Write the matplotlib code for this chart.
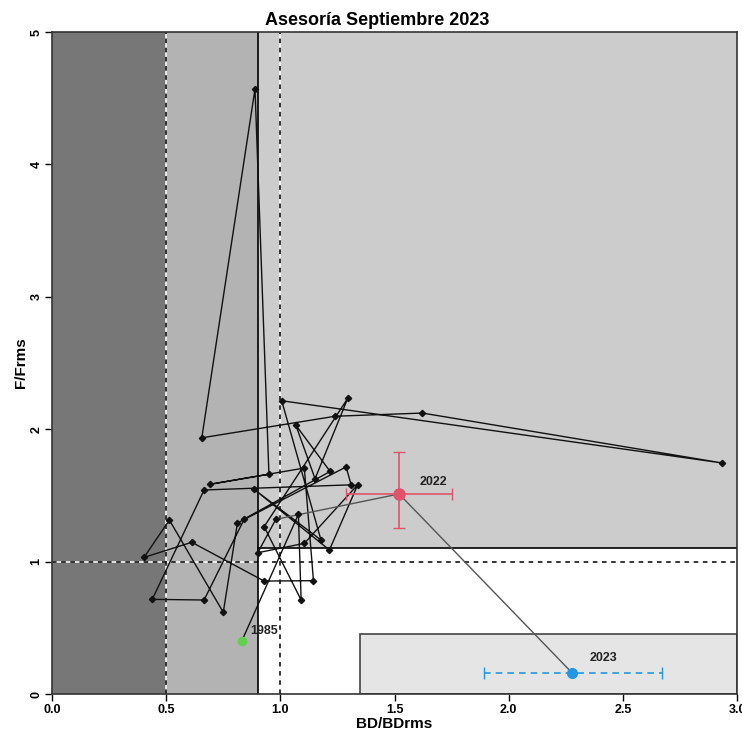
import matplotlib
matplotlib.use("Agg")
import matplotlib.pyplot as plt
from matplotlib.patches import Rectangle

plt.rcParams['font.family'] = ['Liberation Sans Narrow', 'Liberation Sans', 'DejaVu Sans']

# trajectory 1985-2023 (BD/BDrms, F/Frms)
years = list(range(1985, 2024))
bd = [0.831, 1.079, 1.091, 0.929, 1.295, 1.152, 1.068, 1.218, 0.842, 0.666,
      0.439, 0.666, 1.310, 1.288, 0.812, 0.750, 0.514, 0.403, 0.612, 0.929,
      1.145, 1.105, 0.692, 0.950, 0.889, 0.656, 1.240, 1.622, 2.935, 1.006,
      1.178, 0.885, 1.215, 1.339, 1.105, 0.901, 0.980, 1.520, 2.278]
ff = [0.400, 1.357, 0.710, 1.264, 2.233, 1.626, 2.030, 1.681, 1.322, 0.710,
      0.715, 1.541, 1.580, 1.715, 1.292, 0.617, 1.314, 1.032, 1.146, 0.853,
      0.856, 1.707, 1.584, 1.660, 4.570, 1.935, 2.098, 2.122, 1.745, 2.215,
      1.163, 1.546, 1.088, 1.581, 1.138, 1.067, 1.319, 1.511, 0.159]

# uncertainty of the last two points
err_2022_x = [0.232, 0.232]
err_2022_y = [0.257, 0.317]
err_2023_x = [0.386, 0.394]

# reference points
bd_lim, bd_rms = 0.5, 1.0
bd_line = 0.9
f_rms, f_line = 1.0, 1.1

xticks = [0.0, 0.5, 1.0, 1.5, 2.0, 2.5, 3.0]
yticks = [0, 1, 2, 3, 4, 5]

fig = plt.figure(figsize=(7.42, 7.31), dpi=100)
ax = fig.add_axes([0.0701, 0.0506, 0.9232, 0.9056])
ax.set_xlim(0, 3.0)
ax.set_ylim(0, 5)

# zones
ax.add_patch(Rectangle((0, 0), bd_lim, 5, facecolor='#777777', edgecolor='none', zorder=0))
ax.add_patch(Rectangle((bd_lim, 0), bd_line - bd_lim, 5, facecolor='#b3b3b3', edgecolor='none', zorder=0))
ax.add_patch(Rectangle((bd_line, f_line), 3.0 - bd_line, 5 - f_line, facecolor='#cccccc', edgecolor='none', zorder=0))
ax.add_patch(Rectangle((1.35, 0), 1.65, 0.45, facecolor='#e5e5e5', edgecolor='#444444', lw=1.2, zorder=1))

# reference lines
for xv in (bd_lim, bd_rms):
    ax.axvline(xv, color='white', lw=1.1, zorder=1)
    ax.axvline(xv, color='black', lw=1.1, ls=(0, (3, 3)), zorder=2)
ax.axhline(f_rms, color='white', lw=1.1, zorder=1)
ax.axhline(f_rms, color='black', lw=1.1, ls=(0, (3, 3)), zorder=2)
ax.axvline(bd_line, color='black', lw=1.2, zorder=2)
ax.plot([bd_line, 3.0], [f_line, f_line], color='black', lw=1.2, zorder=2)

# trajectory
ax.plot(bd[:-2], ff[:-2], color='#111111', lw=1.0, zorder=3)
ax.plot(bd[1:-2], ff[1:-2], ls='none', marker='D', ms=3.2, color='#111111', zorder=4)
ax.plot(bd[-3:], ff[-3:], color='#555555', lw=1.0, zorder=3)

# first and last years
ax.plot(bd[0], ff[0], 'o', ms=7, color='#61D04F', mec='none', zorder=5)
ax.errorbar(bd[-2], ff[-2], xerr=[[err_2022_x[0]], [err_2022_x[1]]],
            yerr=[[err_2022_y[0]], [err_2022_y[1]]], fmt='o', ms=8,
            color='#DF536B', ecolor='#DF536B', elinewidth=1.2, capsize=4, zorder=5)
eb = ax.errorbar(bd[-1], ff[-1], xerr=[[err_2023_x[0]], [err_2023_x[1]]], fmt='o', ms=7,
                 color='#2297E6', ecolor='#2297E6', elinewidth=1.2, capsize=4, zorder=5)
eb[2][0].set_linestyle((0, (4, 3)))

ax.text(bd[0] + 0.035, ff[0] + 0.05, str(years[0]), fontsize=9, fontweight='bold', color='#222222', zorder=6)
ax.text(bd[-2] + 0.09, ff[-2] + 0.07, str(years[-2]), fontsize=9, fontweight='bold', color='#222222', zorder=6)
ax.text(bd[-1] + 0.075, ff[-1] + 0.09, str(years[-1]), fontsize=9, fontweight='bold', color='#222222', zorder=6)

ax.set_xticks(xticks)
ax.set_xticklabels([f"{v:.1f}" for v in xticks], fontsize=9, fontweight='bold')
ax.set_yticks(yticks)
ax.set_yticklabels([str(v) for v in yticks], fontsize=9, fontweight='bold', rotation=90, va='center')
ax.tick_params(direction='out', length=5, width=1, pad=2)
ax.set_xlabel("BD/BDrms", fontsize=11, fontweight='bold', labelpad=1)
ax.set_ylabel("F/Frms", fontsize=11, fontweight='bold', labelpad=2)
ax.set_title("Asesoría Septiembre 2023", fontsize=13, fontweight='bold', pad=5, x=0.474)
for sp in ax.spines.values():
    sp.set_color('#333333')
    sp.set_linewidth(1.2)

fig.savefig("out.png", dpi=100)
